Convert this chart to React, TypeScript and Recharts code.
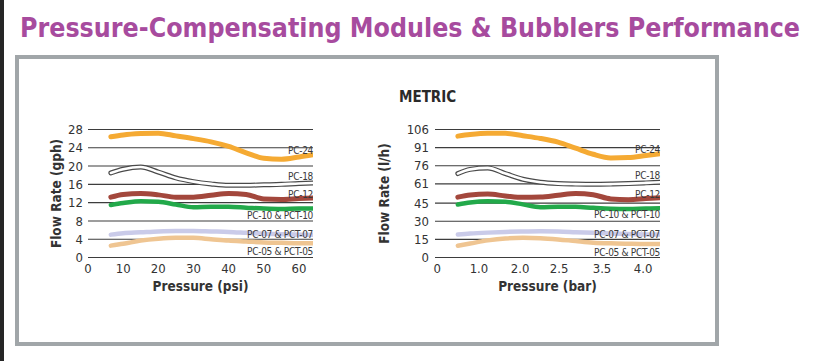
import { CartesianGrid, Line, LineChart, XAxis, YAxis } from "recharts";

const pressurePsi = [6.5, 10, 15, 20, 25, 30, 35, 40, 45, 50, 55, 60, 64];

// flow, gph
const gphPc24 = [26.4, 26.8, 27.1, 27.2, 26.6, 26.0, 25.3, 24.3, 22.9, 21.7, 21.5, 22.0, 22.5];
const gphPc18 = [18.5, 19.3, 19.8, 18.7, 17.4, 16.6, 16.1, 15.8, 15.8, 15.9, 16.0, 16.2, 16.3];
const gphPc12 = [13.2, 13.8, 14.0, 13.7, 13.2, 13.2, 13.6, 14.0, 13.8, 12.8, 12.7, 12.9, 13.0];
const gphPc10 = [11.5, 11.9, 12.3, 12.2, 11.6, 11.0, 11.1, 11.1, 10.9, 10.7, 10.6, 10.7, 10.7];
const gphPc07 = [5.0, 5.3, 5.5, 5.7, 5.8, 5.8, 5.7, 5.6, 5.4, 5.2, 5.1, 5.0, 5.0];
const gphPc05 = [2.6, 3.0, 3.7, 4.1, 4.3, 4.3, 4.0, 3.7, 3.5, 3.3, 3.2, 3.1, 3.1];

// flow, l/h
const lhPc24 = [100.5, 101.8, 102.8, 102.8, 100.8, 98.6, 95.5, 90.5, 85.5, 82.5, 82.8, 84.5, 86.0];
const lhPc18 = [69.5, 73.0, 74.2, 69.5, 64.8, 62.3, 61.2, 60.8, 60.6, 60.8, 61.2, 61.8, 62.3];
const lhPc12 = [50.0, 51.8, 52.5, 51.0, 49.8, 50.0, 51.5, 53.0, 52.0, 48.5, 47.9, 48.8, 49.5];
const lhPc10 = [43.9, 45.5, 46.5, 46.2, 44.0, 41.7, 42.0, 42.0, 41.1, 40.4, 40.2, 40.6, 40.8];
const lhPc07 = [19.0, 19.8, 20.6, 21.2, 21.6, 21.8, 21.6, 21.0, 20.4, 19.8, 19.4, 19.1, 19.0];
const lhPc05 = [9.8, 11.6, 14.2, 15.8, 16.3, 16.0, 15.0, 13.6, 12.3, 11.7, 11.4, 11.2, 11.2];

const psiTicks = [0, 10, 20, 30, 40, 50, 60];
const gphTicks = [0, 4, 8, 12, 16, 20, 24, 28];
const lhTicks = [0, 15, 30, 45, 61, 76, 91, 106];
// the bar labels in the original sit evenly spaced, at these pressure positions
const barTickAt = [0.6, 12.5, 24.2, 35.3, 47.5, 59.2];
const barTickLabels = ["0", "1.0", "2.0", "2.5", "3.5", "4.0"];

const seriesNames = ["PC-05 & PCT-05", "PC-07 & PCT-07", "PC-10 & PCT-10", "PC-12", "PC-18", "PC-24"];

const series = [
  { key: "pc05", name: seriesNames[0], color: "#efc592", width: 4.5, dy: 12 },
  { key: "pc07", name: seriesNames[1], color: "#cacbe9", width: 4.5, dy: 3 },
  { key: "pc10", name: seriesNames[2], color: "#22a94a", width: 4.5, dy: 10 },
  { key: "pc12", name: seriesNames[3], color: "#a3473c", width: 5, dy: 0 },
  { key: "pc18", name: seriesNames[4], color: "#4a4a4a", width: 5, dy: -3, hollow: true },
  { key: "pc24", name: seriesNames[5], color: "#f5aa33", width: 5, dy: -1 },
];

const gphRows = pressurePsi.map((p, i) => ({
  psi: p,
  pc24: gphPc24[i],
  pc18: gphPc18[i],
  pc12: gphPc12[i],
  pc10: gphPc10[i],
  pc07: gphPc07[i],
  pc05: gphPc05[i],
}));

const lhRows = pressurePsi.map((p, i) => ({
  psi: p,
  pc24: lhPc24[i],
  pc18: lhPc18[i],
  pc12: lhPc12[i],
  pc10: lhPc10[i],
  pc07: lhPc07[i],
  pc05: lhPc05[i],
}));

const narrow = "'Liberation Sans Narrow', 'DejaVu Sans Condensed', 'Open Sans', sans-serif";
const ink = "#333";
const tickStyle = { fontSize: 13, fill: ink, fontFamily: narrow };
const titleStyle = { fontSize: 13.5, fontWeight: 700, fill: ink, fontFamily: narrow, textAnchor: "middle" as const };

function endLabel(name: string, dy: number, last: number) {
  return (props: any) => {
    if (props.index !== last) return null;
    return (
      <text
        x={props.x}
        y={props.y + dy}
        textAnchor="end"
        fontSize={10}
        letterSpacing={-0.3}
        fontFamily={narrow}
        fill="#3a3a3a"
      >
        {name}
      </text>
    );
  };
}

function seriesLines() {
  const last = pressurePsi.length - 1;
  const out: any[] = [];
  series.forEach((s) => {
    out.push(
      <Line
        key={s.key}
        dataKey={s.key}
        type="monotone"
        stroke={s.color}
        strokeWidth={s.width}
        strokeLinecap="round"
        dot={false}
        activeDot={false}
        isAnimationActive={false}
        label={s.hollow ? undefined : endLabel(s.name, s.dy, last)}
      />
    );
    if (s.hollow) {
      out.push(
        <Line
          key={s.key + "-in"}
          dataKey={s.key}
          type="monotone"
          stroke="#fff"
          strokeWidth={2.6}
          strokeLinecap="round"
          dot={false}
          activeDot={false}
          isAnimationActive={false}
          label={endLabel(s.name, s.dy, last)}
        />
      );
    }
  });
  return out;
}

const xAxisCommon = {
  dataKey: "psi",
  type: "number" as const,
  domain: [0, 64],
  allowDataOverflow: true,
  axisLine: false,
  tickLine: false,
  tickSize: 4,
  tickMargin: 2,
  height: 33,
  tick: tickStyle,
  interval: 0 as const,
};

function ImperialChart() {
  return (
    <LineChart
      width={290}
      height={200}
      data={gphRows}
      margin={{ top: 29.5, right: 17, left: 0, bottom: 9.5 }}
    >
      <CartesianGrid vertical={false} stroke="#3d3d3d" strokeWidth={1.1} />
      <XAxis
        {...xAxisCommon}
        ticks={psiTicks}
        label={{ value: "Pressure (psi)", position: "insideBottom", offset: 0, style: titleStyle }}
      />
      <YAxis
        type="number"
        domain={[0, 28]}
        ticks={gphTicks}
        width={48}
        axisLine={false}
        tickLine={false}
        tickSize={4}
        tickMargin={1}
        tick={tickStyle}
        interval={0}
        label={{ value: "Flow Rate (gph)", angle: -90, position: "insideLeft", offset: 16, style: titleStyle }}
      />
      {seriesLines()}
    </LineChart>
  );
}

function MetricChart() {
  return (
    <LineChart
      width={295}
      height={200}
      data={lhRows}
      margin={{ top: 29.5, right: 10, left: 0, bottom: 9.5 }}
    >
      <CartesianGrid vertical={false} stroke="#3d3d3d" strokeWidth={1.1} />
      <XAxis
        {...xAxisCommon}
        ticks={barTickAt}
        tickFormatter={(v: number) => barTickLabels[barTickAt.indexOf(v)]}
        label={{ value: "Pressure (bar)", position: "insideBottom", offset: 0, style: titleStyle }}
      />
      <YAxis
        type="number"
        domain={[0, 106]}
        ticks={lhTicks}
        width={60}
        axisLine={false}
        tickLine={false}
        tickSize={4}
        tickMargin={2}
        tick={tickStyle}
        interval={0}
        label={{ value: "Flow Rate (l/h)", angle: -90, position: "insideLeft", offset: 9, style: titleStyle }}
      />
      {seriesLines()}
    </LineChart>
  );
}

export default function App() {
  return (
    <div
      style={{
        position: "absolute",
        left: 0,
        top: 0,
        width: 815,
        height: 361,
        background: "#fff",
        overflow: "hidden",
        fontFamily: narrow,
      }}
    >
      <div style={{ position: "absolute", left: 0, top: 0, width: 4, height: 361, background: "#262626" }} />
      <svg width={815} height={50} style={{ position: "absolute", left: 0, top: 0 }}>
        <text
          x={20}
          y={36.5}
          fontSize={27}
          fontWeight={700}
          fill="#a74b9e"
          fontFamily={narrow}
          textLength={780}
          lengthAdjust="spacingAndGlyphs"
        >
          Pressure-Compensating Modules &amp; Bubblers Performance
        </text>
      </svg>
      <div
        style={{
          position: "absolute",
          left: 15,
          top: 55,
          width: 696,
          height: 283,
          border: "4px solid #a1a6a9",
        }}
      />
      <div
        style={{
          position: "absolute",
          left: 399,
          top: 88,
          fontSize: 15,
          fontWeight: 700,
          color: "#2a2a2a",
          fontFamily: narrow,
        }}
      >
        METRIC
      </div>
      <div style={{ position: "absolute", left: 40, top: 100 }}>
        <ImperialChart />
      </div>
      <div style={{ position: "absolute", left: 375, top: 100 }}>
        <MetricChart />
      </div>
    </div>
  );
}
